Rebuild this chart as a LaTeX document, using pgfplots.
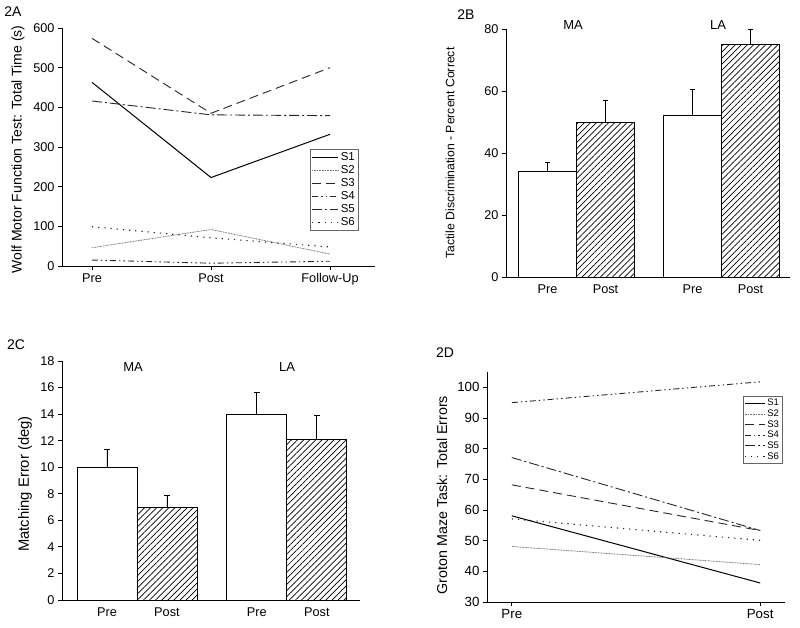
\documentclass[border=0pt]{standalone}
\usepackage{fontspec}
\setmainfont{Liberation Sans}
\usepackage{pgfplots}
\pgfplotsset{compat=1.18}
\usetikzlibrary{patterns.meta}

\pgfplotsset{
  panel/.style={scale only axis, axis x line*=bottom, axis y line*=left,
    axis line style={-,black,line width=0.8pt}, tick align=outside,
    major tick length=4pt, tick style={black,line width=0.8pt},
    /pgf/number format/assume math mode=true, clip=false,
    ylabel style={anchor=center}},
  s1/.style={black, line width=1pt, solid},
  s2/.style={black!55, line width=0.8pt, dash pattern=on 0.9pt off 0.7pt},
  s3/.style={black!85, line width=0.9pt, dash pattern=on 9pt off 5pt},
  s4/.style={black!85, line width=0.9pt, dash pattern=on 6pt off 3pt on 1.5pt off 3pt on 1.5pt off 3pt},
  s5/.style={black!85, line width=0.9pt, dash pattern=on 10pt off 3pt on 2pt off 3pt},
  s6/.style={black!85, line width=1.1pt, dash pattern=on 1.2pt off 5pt},
  barw/.style={ybar, bar width=1, bar shift=0pt, draw=black, line width=0.8pt,
    error bars/y dir=plus, error bars/y explicit,
    error bars/error mark=|,
    error bars/error bar style={black,line width=0.8pt,solid},
    error bars/error mark options={black,line width=0.8pt,mark size=2.7pt}},
}

\begin{document}
\begin{tikzpicture}[x=1pt,y=1pt]
\useasboundingbox (0,0) rectangle (800,628);

% ---------------- 2A ----------------
\begin{axis}[panel, at={(62pt,362pt)}, anchor=south west, width=313pt, height=238pt,
  xmin=-0.252, xmax=2.378, ymin=0, ymax=600,
  xtick={0,1,2}, xticklabels={Pre,Post,Follow-Up}, ytick={0,100,...,600},
  ticklabel style={font=\fontsize{12.7}{14}\selectfont},
  ylabel={Wolf Motor Function Test: Total Time (s)},
  ylabel style={at={(axis description cs:-0.1406,0.49)}, font=\fontsize{14}{16}\selectfont},
  legend style={at={(axis description cs:0.792,0.4916)}, anchor=north west,
    draw=black!60, line width=0.6pt, font=\fontsize{11.5}{12.5}\selectfont,
    inner sep=1.5pt, row sep=-0.6pt, cells={anchor=west}},
  legend image code/.code={\draw[#1] (0pt,0pt) -- (26pt,0pt);},
]
\addplot[s1] coordinates {(0,463) (1,223) (2,332)};
\addplot[s2] coordinates {(0,46) (1,92) (2,30)};
\addplot[s3] coordinates {(0,574) (1,385) (2,500)};
\addplot[s4] coordinates {(0,15) (1,7) (2,12)};
\addplot[s5] coordinates {(0,416) (1,381) (2,379)};
\addplot[s6] coordinates {(0,99) (1,71) (2,48)};
\legend{S1,S2,S3,S4,S5,S6}
\end{axis}

% ---------------- 2B ----------------
\begin{axis}[panel, at={(506pt,351pt)}, anchor=south west, width=284pt, height=248pt,
  xmin=0.284, xmax=5.18, ymin=0, ymax=80,
  xtick={1,2,3.5,4.5}, xticklabels={Pre,Post,Pre,Post}, ytick={0,20,...,80},
  x tick style={draw=none},
  ticklabel style={font=\fontsize{12.7}{14}\selectfont},
  ylabel={Tactile Discrimination - Percent Correct},
  ylabel style={at={(axis description cs:-0.197,0.5)}, font=\fontsize{12.2}{14}\selectfont},
]
\addplot[barw, fill=white] coordinates {(1,34.1) +- (0,2.9) (3.5,52.0) +- (0,8.4)};
\addplot[barw, pattern={Lines[angle=45,distance=4.3pt,line width=0.7pt]}] coordinates {(2,49.9) +- (0,7.2) (4.5,74.9) +- (0,5.1)};
\end{axis}

% ---------------- 2C ----------------
\begin{axis}[panel, at={(62pt,28pt)}, anchor=south west, width=298pt, height=239pt,
  xmin=0.25, xmax=5.22, ymin=0, ymax=18,
  xtick={1,2,3.5,4.5}, xticklabels={Pre,Post,Pre,Post}, ytick={0,2,...,18},
  x tick style={draw=none},
  ticklabel style={font=\fontsize{12.7}{14}\selectfont},
  ylabel={Matching Error (deg)},
  ylabel style={at={(axis description cs:-0.124,0.485)}, font=\fontsize{14.8}{16}\selectfont},
]
\addplot[barw, fill=white] coordinates {(1,10.0) +- (0,1.35) (3.5,13.96) +- (0,1.7)};
\addplot[barw, pattern={Lines[angle=45,distance=4.3pt,line width=0.7pt]}] coordinates {(2,6.97) +- (0,0.87) (4.5,12.1) +- (0,1.8)};
\end{axis}

% ---------------- 2D ----------------
\begin{axis}[panel, at={(487pt,26pt)}, anchor=south west, width=298pt, height=230pt,
  xmin=-0.1, xmax=1.1, ymin=30, ymax=105,
  xtick={0,1}, xticklabels={Pre,Post}, ytick={30,40,...,100},
  ticklabel style={font=\fontsize{13.3}{15}\selectfont},
  ylabel={Groton Maze Task: Total Errors},
  ylabel style={at={(axis description cs:-0.151,0.465)}, font=\fontsize{14.3}{16}\selectfont},
  legend style={at={(axis description cs:0.859,0.896)}, anchor=north west,
    draw=black!60, line width=0.6pt, font=\fontsize{9.5}{10.5}\selectfont,
    inner sep=1pt, row sep=-1.5pt, cells={anchor=west}},
  legend image code/.code={\draw[#1] (0pt,0pt) -- (20pt,0pt);},
]
\addplot[s1] coordinates {(0,58.1) (1,36.2)};
\addplot[s2] coordinates {(0,48.1) (1,42.2)};
\addplot[s3] coordinates {(0,68.2) (1,53.3)};
\addplot[s4] coordinates {(0,95.0) (1,101.8)};
\addplot[s5] coordinates {(0,77.1) (1,53.3)};
\addplot[s6] coordinates {(0,57.1) (1,50.1)};
\legend{S1,S2,S3,S4,S5,S6}
\end{axis}

% labels
\node[font=\fontsize{14}{16}\selectfont] at (13,616) {2A};
\node[font=\fontsize{14}{16}\selectfont] at (466,613) {2B};
\node[font=\fontsize{14}{16}\selectfont] at (16,283) {2C};
\node[font=\fontsize{14}{16}\selectfont] at (445,275) {2D};
\node[font=\fontsize{13}{15}\selectfont] at (573,603) {MA};
\node[font=\fontsize{13}{15}\selectfont] at (718,603) {LA};
\node[font=\fontsize{13}{15}\selectfont] at (133,261) {MA};
\node[font=\fontsize{13}{15}\selectfont] at (287,261) {LA};
\end{tikzpicture}
\end{document}
